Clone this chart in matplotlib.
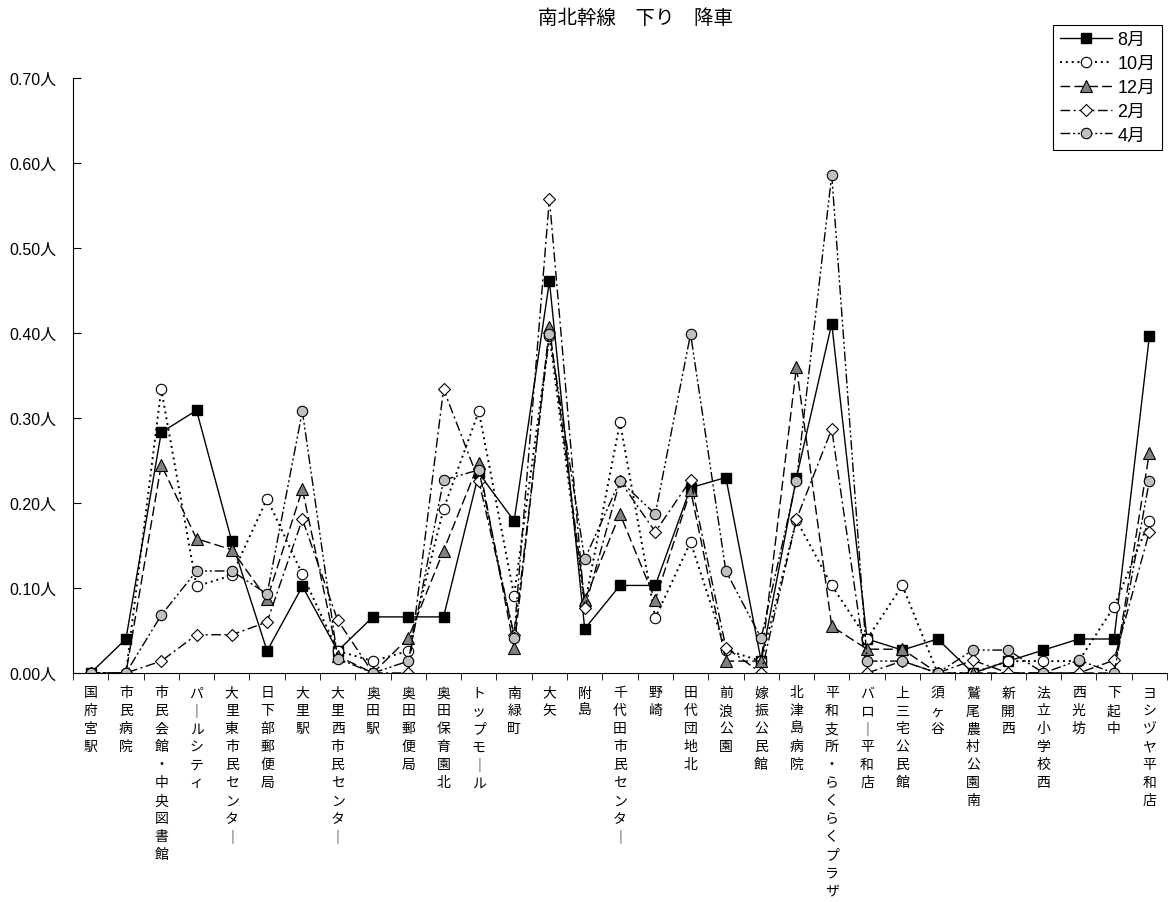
import matplotlib
matplotlib.use("Agg")
import matplotlib.pyplot as plt
import numpy as np

plt.rcParams['font.family'] = ['Liberation Sans', 'Noto Sans CJK JP']

stops = ["国府宮駅", "市民病院", "市民会館・中央図書館", "パールシティ", "大里東市民センター",
         "日下部郵便局", "大里駅", "大里西市民センター", "奥田駅", "奥田郵便局",
         "奥田保育園北", "トップモール", "南緑町", "大矢", "附島",
         "千代田市民センター", "野崎", "田代団地北", "前浪公園", "嫁振公民館",
         "北津島病院", "平和支所・らくらくプラザ", "バロー平和店", "上三宅公民館", "須ヶ谷",
         "鷲尾農村公園南", "新開西", "法立小学校西", "西光坊", "下起中",
         "ヨシヅヤ平和店"]

aug = [0, 0.04, 0.283, 0.309, 0.155, 0.026, 0.102, 0.026, 0.066, 0.066,
       0.066, 0.235, 0.179, 0.461, 0.052, 0.103, 0.103, 0.218, 0.230, 0.014,
       0.230, 0.411, 0.040, 0.027, 0.040, 0, 0.014, 0.027, 0.040, 0.040,
       0.396]
octo = [0, 0, 0.334, 0.102, 0.115, 0.205, 0.116, 0.026, 0.014, 0.026,
        0.193, 0.308, 0.091, 0.397, 0.080, 0.295, 0.065, 0.154, 0.027, 0.014,
        0.180, 0.103, 0.040, 0.103, 0, 0, 0.014, 0.014, 0.014, 0.078,
        0.179]
dec = [0, 0, 0.245, 0.158, 0.145, 0.087, 0.216, 0.020, 0, 0.041,
       0.144, 0.247, 0.029, 0.407, 0.086, 0.187, 0.086, 0.215, 0.014, 0.014,
       0.360, 0.055, 0.028, 0.028, 0, 0, 0, 0, 0, 0,
       0.259]
feb = [0, 0, 0.014, 0.045, 0.045, 0.060, 0.181, 0.062, 0, 0,
       0.334, 0.226, 0.045, 0.558, 0.076, 0.226, 0.166, 0.227, 0.030, 0,
       0.181, 0.287, 0, 0.014, 0, 0.015, 0, 0, 0, 0.015,
       0.166]
apr = [0, 0, 0.068, 0.120, 0.120, 0.093, 0.308, 0.017, 0, 0.014,
       0.227, 0.239, 0.041, 0.399, 0.134, 0.226, 0.187, 0.399, 0.120, 0.041,
       0.226, 0.586, 0.014, 0.014, 0, 0.027, 0.027, 0, 0.015, 0,
       0.226]

yticks = [0.0, 0.1, 0.2, 0.3, 0.4, 0.5, 0.6, 0.7]

fig = plt.figure(figsize=(11.69, 9.03), dpi=100)
ax = fig.add_axes([73 / 1169, 1 - 674 / 903, (1167 - 73) / 1169, (674 - 79) / 903])

x = np.arange(len(stops))
ms = 7.5
ax.plot(x, aug, color="black", lw=1, linestyle="-", marker="s", ms=ms,
        mfc="black", mec="black", label="8月")
ax.plot(x, octo, color="black", lw=1.4, linestyle=(0, (1, 2)), marker="o", ms=ms,
        mfc="white", mec="black", mew=0.8, label="10月")
ax.plot(x, dec, color="black", lw=1, linestyle=(0, (7, 3)), marker="^", ms=ms + 1,
        mfc="#808080", mec="black", mew=0.8, label="12月")
ax.plot(x, feb, color="black", lw=1, linestyle=(0, (7, 2.5, 1.5, 2.5)), marker="D", ms=ms - 1.5,
        mfc="white", mec="black", mew=0.8, label="2月")
ax.plot(x, apr, color="black", lw=1, linestyle=(0, (7, 2, 1.5, 2, 1.5, 2)), marker="o", ms=ms,
        mfc="#c0c0c0", mec="black", mew=0.8, label="4月")

ax.set_xlim(-0.5, len(stops) - 0.5)
ax.set_ylim(0, 0.7)
ax.spines["top"].set_visible(False)
ax.spines["right"].set_visible(False)

ax.set_yticks(yticks)
ax.set_yticklabels([f"{v:.2f}人" for v in yticks], fontsize=11.5)
ax.tick_params(axis="y", direction="in", length=6, pad=12)

labels = ["\n".join(s.replace("ー", "｜")) for s in stops]
ax.set_xticks(x)
ax.set_xticklabels(labels, fontsize=10, linespacing=1.36, va="top",
                   family=["Noto Sans CJK JP", "DejaVu Sans"])
ax.tick_params(axis="x", which="major", length=0, pad=9)
ax.set_xticks(np.arange(len(stops) + 1) - 0.5, minor=True)
ax.tick_params(axis="x", which="minor", direction="out", length=5)

fig.text(636 / 1169, 1 - 18 / 903, "南北幹線　下り　降車", ha="center", va="center",
         fontsize=14, family=["Noto Sans CJK JP", "DejaVu Sans"])

leg = fig.legend(loc="upper right", bbox_to_anchor=(1162 / 1169, 1 - 26 / 903),
                 fontsize=13, handlelength=2.9, handletextpad=0.3, labelspacing=0.38,
                 borderpad=0.35, numpoints=1, fancybox=False, framealpha=1,
                 edgecolor="black", borderaxespad=0)
leg.get_frame().set_linewidth(0.8)

fig.savefig("out.png", dpi=100)
